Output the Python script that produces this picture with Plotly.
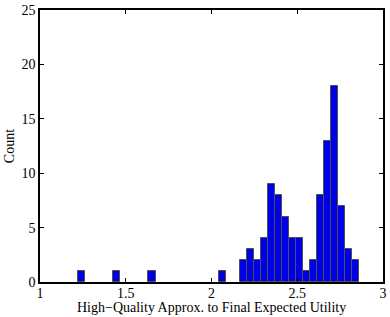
import plotly.graph_objects as go

# Histogram bin centers (non-empty bins) and counts
bin_centers = [1.243, 1.448, 1.653, 2.063,
               2.186, 2.227, 2.268, 2.309, 2.350, 2.391, 2.432, 2.473, 2.514,
               2.555, 2.596, 2.637, 2.678, 2.719, 2.760, 2.801, 2.842]
counts = [1, 1, 1, 1,
          2, 3, 2, 4, 9, 8, 6, 4, 4,
          1, 2, 8, 13, 18, 7, 3, 2]
bin_width = 0.041

x_ticks = [1, 1.5, 2, 2.5, 3]
x_tick_labels = ["1", "1.5", "2", "2.5", "3"]
y_ticks = [0, 5, 10, 15, 20, 25]

font_family = "Liberation Serif, Times New Roman, serif"

fig = go.Figure(go.Bar(
    x=bin_centers,
    y=counts,
    width=bin_width,
    marker=dict(color="rgb(0,0,230)", line=dict(color="rgb(80,80,80)", width=1)),
))

axis_common = dict(
    showline=True, linecolor="black", linewidth=1.5, mirror="ticks",
    ticks="inside", ticklen=4, tickcolor="black", tickwidth=1,
    showgrid=False, zeroline=False, automargin=False,
    tickfont=dict(family=font_family, size=14, color="black"),
)

fig.update_layout(
    width=390, height=317,
    margin=dict(l=40, r=7, t=10, b=35, autoexpand=False),
    paper_bgcolor="white", plot_bgcolor="white",
    showlegend=False,
    bargap=0,
    font=dict(family=font_family, color="black"),
    xaxis=dict(range=[1, 3], tickvals=x_ticks, ticktext=x_tick_labels,
               ticklabelstandoff=-3, **axis_common),
    yaxis=dict(range=[0, 25], tickvals=y_ticks, ticklabelstandoff=0,
               **axis_common),
    annotations=[
        dict(text="High\u2212Quality Approx. to Final Expected Utility",
             xref="paper", yref="paper", x=0.5, y=-0.058,
             xanchor="center", yanchor="top", showarrow=False,
             font=dict(family=font_family, size=14, color="black")),
        dict(text="Count", xref="paper", yref="paper", x=-0.09, y=0.5,
             xanchor="center", yanchor="middle", textangle=-90, showarrow=False,
             font=dict(family=font_family, size=14, color="black")),
    ],
)

fig.write_html("out.html",
               config={"displayModeBar": False},
               post_script="document.body.style.margin='0';document.body.style.overflow='hidden';")
